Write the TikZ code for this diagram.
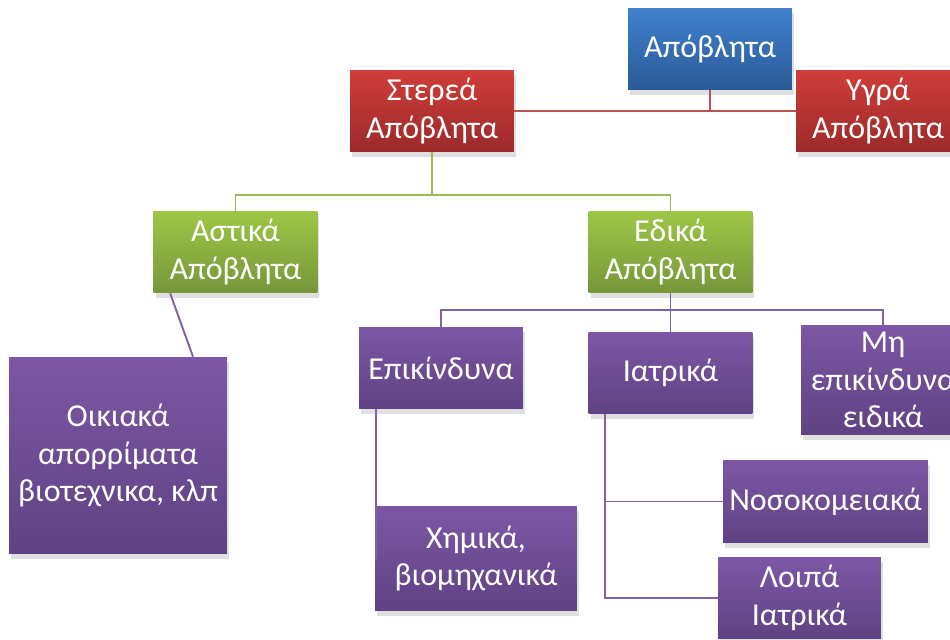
\documentclass[tikz,border=0pt]{standalone}
\usepackage{fontspec}
\setmainfont{Carlito}
\usetikzlibrary{shadows}

\definecolor{bluetop}{HTML}{3F80CD}
\definecolor{bluebot}{HTML}{2B5A97}
\definecolor{redtop}{HTML}{CF3D3A}
\definecolor{redbot}{HTML}{9C2A2A}
\definecolor{greentop}{HTML}{9DC746}
\definecolor{greenbot}{HTML}{77963A}
\definecolor{purtop}{HTML}{7D57A5}
\definecolor{purbot}{HTML}{5F4283}
\definecolor{redline}{HTML}{C0504D}
\definecolor{greenline}{HTML}{9BBB59}
\definecolor{purline}{HTML}{8064A2}

\begin{document}
\begin{tikzpicture}[x=0.02cm, y=-0.02cm,
  box/.style={rectangle, text=white, align=center, inner sep=2pt,
    minimum width=3.28cm, minimum height=1.64cm,
    font=\fontsize{18.2}{21.5}\selectfont,
    drop shadow={shadow xshift=0.04cm, shadow yshift=-0.1cm, opacity=0.25}},
  bluebox/.style={box, top color=bluetop, bottom color=bluebot},
  redbox/.style={box, top color=redtop, bottom color=redbot},
  greenbox/.style={box, top color=greentop, bottom color=greenbot},
  purbox/.style={box, top color=purtop, bottom color=purbot},
  link/.style={line width=1.1pt}]
  \clip (0,0) rectangle (950,639);
  \fill[white] (0,0) rectangle (950,639);

  \node[bluebox] (apo) at (710,49) {Απόβλητα};
  \node[redbox] (sterea) at (432,111) {Στερεά\\Απόβλητα};
  \node[redbox] (ygra) at (878,111) {Υγρά\\Απόβλητα};
  \node[greenbox] (astika) at (235.5,252) {Αστικά\\Απόβλητα};
  \node[greenbox] (eidika) at (670.5,252) {Εδικά\\Απόβλητα};
  \node[purbox, minimum width=4.36cm, minimum height=3.94cm] (oikiaka) at (118,455.5) {Οικιακά\\απορρίματα\\βιοτεχνικα, κλπ};
  \node[purbox] (epik) at (441,368) {Επικίνδυνα};
  \node[purbox] (iatrika) at (670.5,373) {Ιατρικά};
  \node[purbox, minimum height=2.2cm] (mhepik) at (883,380) {Μη\\επικίνδυνα\\ειδικά};
  \node[purbox, minimum width=4.04cm, minimum height=2.1cm] (xhmika) at (476,558.5) {Χημικά,\\βιομηχανικά};
  \node[purbox, minimum width=4.1cm, minimum height=1.66cm] (nosok) at (825.5,501.5) {Νοσοκομειακά};
  \node[purbox, minimum width=3.26cm] (loipa) at (799.5,598) {Λοιπά\\Ιατρικά};

  % red connectors
  \draw[link, redline] (sterea.east) -- (ygra.west);
  \draw[link, redline] (apo.south) -- (apo.south |- sterea.east);
  % green connectors
  \coordinate (gbus) at (432,195);
  \draw[link, greenline] (sterea.south) -- (gbus);
  \draw[link, greenline] (astika.north) |- (gbus) -| (eidika.north);
  % purple connectors
  \coordinate (pbus) at (670.5,310);
  \draw[link, purline] ([xshift=0.34cm]astika.south west) -- ([xshift=1.5cm]oikiaka.north);
  \draw[link, purline] (eidika.south) -- (iatrika.north);
  \draw[link, purline] (epik.north) |- (pbus) -| (mhepik.north);
  \draw[link, purline] ([xshift=0.34cm]epik.south west) |- (xhmika.west);
  \draw[link, purline] ([xshift=0.34cm]iatrika.south west) |- (nosok.west);
  \draw[link, purline] ([xshift=0.34cm]iatrika.south west) |- (loipa.west);
\end{tikzpicture}
\end{document}
